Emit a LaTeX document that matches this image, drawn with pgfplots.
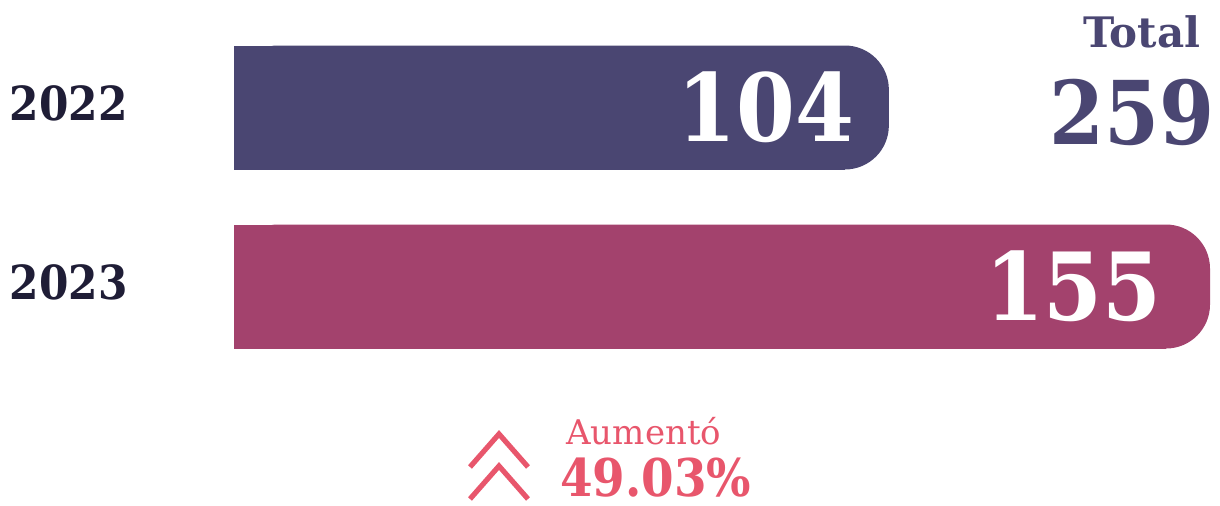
\documentclass[border=0pt]{standalone}
\usepackage{pgfplots}
\pgfplotsset{compat=1.18}
\usepackage{fontspec}
\setmainfont{DejaVu Serif}
\newfontfamily\condfont{DejaVu Serif Condensed}
\definecolor{bar22}{HTML}{4A4672}
\definecolor{bar23}{HTML}{A3426D}
\definecolor{coral}{HTML}{E8566C}
\definecolor{ink}{HTML}{1F1D36}

\begin{document}
\begin{tikzpicture}
\useasboundingbox (0,0) rectangle (610pt,-253pt);
\begin{axis}[
    at={(117pt,0pt)}, anchor=north west,
    scale only axis,
    width=488pt, height=253pt,
    bar width=62pt, bar shift=0pt,
    xmin=0, xmax=155,
    ymin=-1.226, ymax=1.6006,
    ytick={0,1}, yticklabels={2023,2022},
    xtick=\empty,
    axis line style={draw=none},
    major tick length=0pt,
    yticklabel style={anchor=east, inner sep=0pt, xshift=-53pt, yshift=2pt,
        font=\condfont\bfseries\fontsize{23.5}{24}\selectfont, text=ink},
    /pgf/number format/assume math mode=true,
    point meta=x,
    every node near coord/.append style={anchor=east, text=white, inner sep=0pt,
        font=\condfont\bfseries\fontsize{47}{47}\selectfont},
]
% square left part of each bar
\addplot[xcomb, bar22, line width=62pt, shorten >=22pt] coordinates {(104,1)};
\addplot[xcomb, bar23, line width=62pt, shorten >=22pt] coordinates {(155,0)};
% bars with rounded right end and value labels
\addplot[xbar, fill=bar22, draw=none, rounded corners=22pt, nodes near coords,
    every node near coord/.append style={xshift=-17pt}] coordinates {(104,1)};
\addplot[xbar, fill=bar23, draw=none, rounded corners=22pt, nodes near coords,
    every node near coord/.append style={xshift=-24pt}] coordinates {(155,0)};
\end{axis}

% total
\node[text=bar22, font=\bfseries\fontsize{21}{21}\selectfont, inner sep=0pt] at (571pt,-16pt) {Total};
\node[text=bar22, anchor=east, inner sep=0pt, font=\condfont\bfseries\fontsize{44}{44}\selectfont] at (607.5pt,-56pt) {259};

% change
\draw[coral, line width=2.6pt] (235pt,-233.5pt) -- (249.5pt,-217pt) -- (264pt,-233.5pt);
\draw[coral, line width=2.6pt] (235pt,-249.5pt) -- (249.5pt,-233pt) -- (264pt,-249.5pt);
\node[text=coral, anchor=west, inner sep=0pt, font=\fontsize{17}{17}\selectfont] at (283pt,-215.5pt) {Aumentó};
\node[text=coral, anchor=base west, inner sep=0pt, font=\condfont\bfseries\fontsize{26}{27}\selectfont] at (280pt,-248.5pt) {49.03\%};
\end{tikzpicture}
\end{document}
